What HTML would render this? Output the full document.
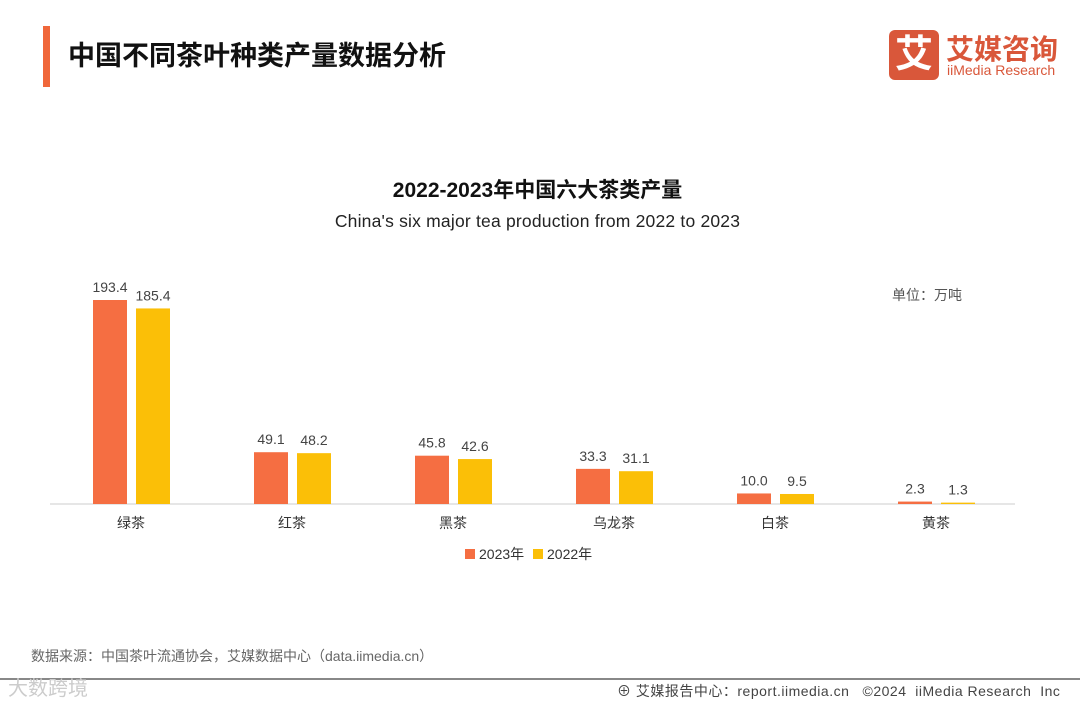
<!DOCTYPE html>
<html><head><meta charset="utf-8">
<style>
body{margin:0;width:1080px;height:702px;background:#fff;font-family:"Liberation Sans","Noto Sans CJK SC",sans-serif;position:relative;overflow:hidden}
.a{position:absolute;white-space:nowrap}
</style></head><body>
<div class="a" style="left:43px;top:26px;width:7px;height:61px;background:#f0673a"></div>
<div class="a" style="left:68px;top:34px;font-size:27px;font-weight:bold;color:#111">中国不同茶叶种类产量数据分析</div>
<div class="a" style="left:889px;top:30px;width:50px;height:50px;background:#d9573a;border-radius:6px;color:#fff;font-size:38px;font-weight:bold;text-align:center;line-height:50px">艾</div>
<div class="a" style="left:946px;top:28px;font-size:28px;font-weight:bold;color:#d9573a">艾媒咨询</div>
<div class="a" style="left:947px;top:62px;font-size:14px;color:#d9573a">iiMedia Research</div>
<div class="a" style="left:0;width:1075px;text-align:center;top:174px;font-size:21px;font-weight:bold;color:#111">2022-2023年中国六大茶类产量</div>
<div class="a" style="left:0;width:1075px;text-align:center;top:211px;font-size:17.5px;color:#222;letter-spacing:0.2px">China's six major tea production from 2022 to 2023</div>
<div class="a" style="left:892px;top:285px;font-size:14px;color:#555">单位：万吨</div>
<svg class="a" style="left:0;top:0" width="1080" height="702" id="chart"></svg>
<div class="a" style="left:465px;top:544px;font-size:14px;color:#333"><span style="display:inline-block;width:10px;height:10px;background:#f56e42;margin-right:4px"></span>2023年</div>
<div class="a" style="left:533px;top:544px;font-size:14px;color:#333"><span style="display:inline-block;width:10px;height:10px;background:#fbbf07;margin-right:4px"></span>2022年</div>
<div class="a" style="left:31px;top:646px;font-size:14px;color:#666">数据来源：中国茶叶流通协会，艾媒数据中心（data.iimedia.cn）</div>
<div class="a" style="left:0;top:678px;width:1080px;height:2px;background:#888"></div>
<div class="a" style="left:8px;top:672px;font-size:20px;color:#ccc">大数跨境</div>
<div class="a" style="left:617px;top:681px;font-size:14px;color:#444;letter-spacing:0.5px">⊕ 艾媒报告中心：report.iimedia.cn &nbsp;&nbsp;©2024 &nbsp;iiMedia Research &nbsp;Inc</div>
<script>
const categories=["绿茶","红茶","黑茶","乌龙茶","白茶","黄茶"];
const values2023=[193.4,49.1,45.8,33.3,10.0,2.3];
const values2022=[185.4,48.2,42.6,31.1,9.5,1.3];
const labels2023=["193.4","49.1","45.8","33.3","10.0","2.3"];
const labels2022=["185.4","48.2","42.6","31.1","9.5","1.3"];
const svg=document.getElementById('chart');const NS="http://www.w3.org/2000/svg";
const base=504,k=204/193.4;
const y=v=>base-v*k;
const xc=i=>131+i*161;
function mk(t,a){const e=document.createElementNS(NS,t);for(const q in a)e.setAttribute(q,a[q]);svg.appendChild(e);return e;}
const ax=mk('line',{x1:50,x2:1015,y1:base,y2:base,stroke:'#ccc','stroke-width':1});


categories.forEach((c,i)=>{
 [[values2023,labels2023,'#f56e42',-38],[values2022,labels2022,'#fbbf07',5]].forEach(([vals,lab,col,off],s)=>{
  const r=mk('rect',{x:xc(i)+off,y:y(vals[i]),width:34,height:vals[i]*k,fill:col});
  
  
  const t=mk('text',{x:xc(i)+off+17,y:y(vals[i])-8,'text-anchor':'middle','font-size':14,fill:'#444'});
  t.textContent=lab[i];
  
  
 });
 const t=mk('text',{x:xc(i),y:528,'text-anchor':'middle','font-size':14,fill:'#333'});
 t.textContent=c;
 
 
});
</script>
</body></html>
